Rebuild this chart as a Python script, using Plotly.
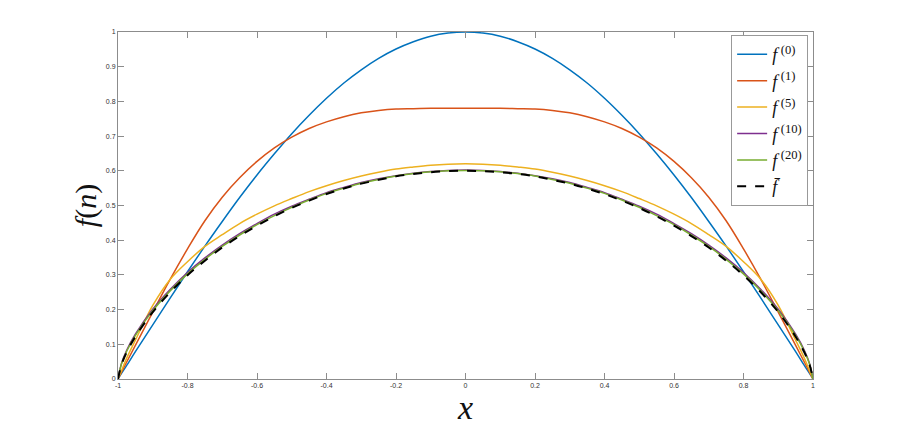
import plotly.graph_objects as go

x = [-1, -0.99, -0.975, -0.95, -0.9, -0.85, -0.8, -0.75, -0.7, -0.65, -0.6, -0.55, -0.5,
     -0.45, -0.4, -0.35, -0.3, -0.25, -0.2, -0.15, -0.1, -0.05, 0,
     0.05, 0.1, 0.15, 0.2, 0.25, 0.3, 0.35, 0.4, 0.45, 0.5, 0.55, 0.6, 0.65, 0.7,
     0.75, 0.8, 0.85, 0.9, 0.95, 0.975, 0.99, 1]

f0 = [0, 0.016, 0.039, 0.079, 0.156, 0.233, 0.309, 0.383, 0.454, 0.523, 0.588, 0.649, 0.707,
      0.760, 0.809, 0.853, 0.891, 0.924, 0.951, 0.972, 0.988, 0.997, 1.0,
      0.997, 0.988, 0.972, 0.951, 0.924, 0.891, 0.853, 0.809, 0.760, 0.707, 0.649, 0.588, 0.523, 0.454,
      0.383, 0.309, 0.233, 0.156, 0.079, 0.039, 0.016, 0]

f1 = [0, 0.020, 0.049, 0.097, 0.193, 0.287, 0.375, 0.456, 0.524, 0.580, 0.627, 0.666, 0.697,
      0.722, 0.741, 0.756, 0.767, 0.774, 0.778, 0.779, 0.780, 0.780, 0.780,
      0.780, 0.780, 0.779, 0.778, 0.774, 0.767, 0.756, 0.741, 0.722, 0.697, 0.666, 0.627, 0.580, 0.524,
      0.456, 0.375, 0.287, 0.193, 0.097, 0.049, 0.020, 0]

f5 = [0, 0.024, 0.060, 0.112, 0.212, 0.287, 0.338, 0.382, 0.416, 0.448, 0.475, 0.499, 0.520,
      0.540, 0.557, 0.572, 0.585, 0.596, 0.605, 0.611, 0.616, 0.619, 0.620,
      0.619, 0.616, 0.611, 0.605, 0.596, 0.585, 0.572, 0.557, 0.540, 0.520, 0.499, 0.475, 0.448, 0.416,
      0.382, 0.338, 0.287, 0.212, 0.112, 0.060, 0.024, 0]

f10 = [0, 0.045, 0.083, 0.129, 0.201, 0.258, 0.307, 0.349, 0.386, 0.419, 0.448, 0.475, 0.498,
       0.518, 0.537, 0.552, 0.566, 0.577, 0.586, 0.593, 0.598, 0.601, 0.602,
       0.601, 0.598, 0.593, 0.586, 0.577, 0.566, 0.552, 0.537, 0.518, 0.498, 0.475, 0.448, 0.419, 0.386,
       0.349, 0.307, 0.258, 0.201, 0.129, 0.083, 0.045, 0]

f20 = [0, 0.043, 0.080, 0.126, 0.197, 0.254, 0.303, 0.345, 0.382, 0.415, 0.445, 0.471, 0.495,
       0.516, 0.535, 0.550, 0.564, 0.575, 0.585, 0.592, 0.597, 0.600, 0.601,
       0.600, 0.597, 0.592, 0.585, 0.575, 0.564, 0.550, 0.535, 0.516, 0.495, 0.471, 0.445, 0.415, 0.382,
       0.345, 0.303, 0.254, 0.197, 0.126, 0.080, 0.043, 0]

fbar = [0, 0.041, 0.077, 0.122, 0.193, 0.250, 0.299, 0.341, 0.379, 0.412, 0.442, 0.469, 0.493,
        0.514, 0.533, 0.549, 0.563, 0.574, 0.584, 0.591, 0.596, 0.599, 0.600,
        0.599, 0.596, 0.591, 0.584, 0.574, 0.563, 0.549, 0.533, 0.514, 0.493, 0.469, 0.442, 0.412, 0.379,
        0.341, 0.299, 0.250, 0.193, 0.122, 0.077, 0.041, 0]

series_names = ["<i>f</i>\u2009<sup>(0)</sup>", "<i>f</i>\u2009<sup>(1)</sup>", "<i>f</i>\u2009<sup>(5)</sup>",
                "<i>f</i>\u2009<sup>(10)</sup>", "<i>f</i>\u2009<sup>(20)</sup>", "<i>f\u0304</i>"]
series_vals = [f0, f1, f5, f10, f20, fbar]
colors = ["#0072BD", "#D95319", "#EDB120", "#7E2F8E", "#77AC30", "#000000"]

x_ticks = [-1, -0.8, -0.6, -0.4, -0.2, 0, 0.2, 0.4, 0.6, 0.8, 1]
x_ticklabels = ["-1", "-0.8", "-0.6", "-0.4", "-0.2", "0", "0.2", "0.4", "0.6", "0.8", "1"]
y_ticks = [0, 0.1, 0.2, 0.3, 0.4, 0.5, 0.6, 0.7, 0.8, 0.9, 1]
y_ticklabels = ["0", "0.1", "0.2", "0.3", "0.4", "0.5", "0.6", "0.7", "0.8", "0.9", "1"]

fig = go.Figure()
for i, (name, vals, col) in enumerate(zip(series_names, series_vals, colors)):
    dashed = (i == 5)
    fig.add_trace(go.Scatter(
        x=x, y=vals, mode="lines", name=name,
        line=dict(color=col, width=2 if dashed else 1.5, dash="dash" if dashed else "solid",
                  shape="spline", smoothing=1.0),
    ))

axis_common = dict(
    showgrid=False, zeroline=False, showline=True, linecolor="#8c8c8c", linewidth=1,
    mirror="ticks", ticks="inside", ticklen=6, tickcolor="#8c8c8c", tickwidth=1,
    tickfont=dict(family="Liberation Sans, Arial, sans-serif", size=7, color="#333333"),
    automargin=False,
)

fig.update_xaxes(range=[-1, 1], tickvals=x_ticks, ticktext=x_ticklabels,
                 title=dict(text="<i>x</i>", font=dict(family="Liberation Serif, serif", size=34, color="#111"),
                            standoff=4),
                 **axis_common)
fig.update_yaxes(range=[0, 1], tickvals=y_ticks, ticktext=y_ticklabels,
                 title=dict(text="<i>f</i>(<i>n</i>)", font=dict(family="Liberation Serif, serif", size=30, color="#111"),
                            standoff=0),
                 **axis_common)

# page body adds an 8px offset; figure is sized so the plot area lands at x 118-813, y 32-379
fig.update_layout(
    width=892, height=424,
    margin=dict(l=110, r=87, t=24, b=53, autoexpand=False),
    plot_bgcolor="white", paper_bgcolor="white",
    showlegend=True,
    legend=dict(x=0.993, y=0.991, xanchor="right", yanchor="top",
                bgcolor="white", bordercolor="#999999", borderwidth=1,
                font=dict(family="Liberation Serif, serif", size=18, color="#111"),
                itemwidth=30, tracegroupgap=0),
)

fig.write_html("out.html")
